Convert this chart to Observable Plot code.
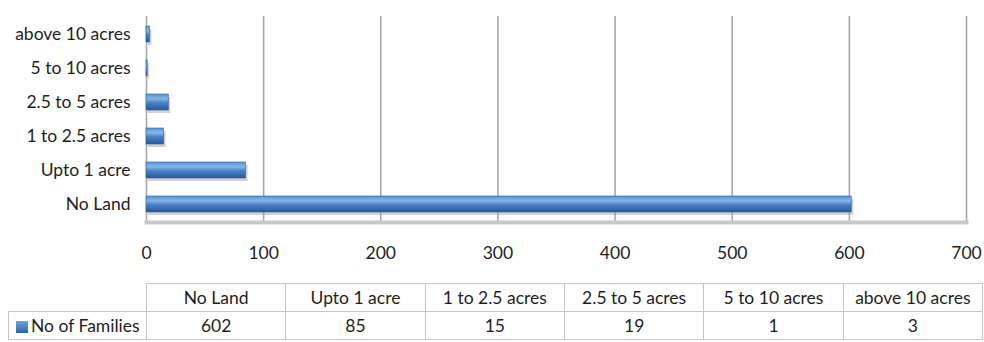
<!DOCTYPE html>
<html>
<head>
<meta charset="utf-8">
<script src="https://cdn.jsdelivr.net/npm/d3@7"></script>
<script src="https://cdn.jsdelivr.net/npm/@observablehq/plot@0.6"></script>
<style>
  html, body { margin: 0; padding: 0; background: #fff; }
  #wrap { position: relative; width: 984px; height: 342px; overflow: hidden; font-family: Lato, "Open Sans", sans-serif; }
  #chart { position: absolute; left: 0; top: 0; }
  table { position: absolute; left: 8px; top: 283px; width: 974px; table-layout: fixed; border-collapse: collapse; font-family: Lato, sans-serif; font-size: 17.5px; color: #1e1e1e; }
  td { border: 1px solid #c4c4c4; height: 28px; padding: 0; text-align: center; box-sizing: border-box; white-space: nowrap; }
  td.lbl { text-align: left; padding-left: 7px; }
  td.blank { border: none; border-right: 1px solid #c4c4c4; }
  .sw { display: inline-block; width: 12px; height: 12px; background: linear-gradient(#6fa3dc, #2e62a8); margin-right: 3px; vertical-align: -1px; box-sizing: border-box; }
</style>
</head>
<body>
<div id="wrap">
  <div id="chart"></div>
  <table id="tbl"><colgroup id="cols"></colgroup></table>
</div>
<script>
const categories = ["No Land", "Upto 1 acre", "1 to 2.5 acres", "2.5 to 5 acres", "5 to 10 acres", "above 10 acres"];
const families = [602, 85, 15, 19, 1, 3];
const seriesName = "No of Families";
const xTicks = [0, 100, 200, 300, 400, 500, 600, 700];

const data = categories.map((c, i) => ({category: c, value: families[i]}));

const plot = Plot.plot({
  width: 984,
  height: 270,
  marginLeft: 146,
  marginRight: 18,
  marginTop: 16,
  marginBottom: 48,
  style: {fontFamily: "Lato, sans-serif", fontSize: "17.5px", color: "#1e1e1e", background: "transparent"},
  x: {domain: [0, 700], ticks: xTicks, tickSize: 0, tickPadding: 24, label: null},
  y: {domain: categories.slice().reverse(), paddingInner: 0.54, paddingOuter: 0.27, tickSize: 0, tickPadding: 16, label: null},
  marks: [
    Plot.ruleX(xTicks, {stroke: "#a8a8a8", strokeWidth: 1.6}),
    Plot.frame({anchor: "bottom", stroke: "#c8c8c8", strokeWidth: 4}),
    Plot.barX(data, {x: "value", y: "category", fill: "#9a9a9a", fillOpacity: 0.45, dy: 3, dx: 2}),
    Plot.barX(data, {x: "value", y: "category", fill: "url(#barGrad)", stroke: "#2d5f9e", strokeWidth: 0.6})
  ]
});

const svg = d3.select(plot);
const defs = svg.insert("defs", ":first-child");
const g = defs.append("linearGradient").attr("id", "barGrad").attr("x1", 0).attr("x2", 0).attr("y1", 0).attr("y2", 1);
g.append("stop").attr("offset", "0%").attr("stop-color", "#5a92d3");
g.append("stop").attr("offset", "30%").attr("stop-color", "#85b7e8");
g.append("stop").attr("offset", "55%").attr("stop-color", "#4a81c7");
g.append("stop").attr("offset", "100%").attr("stop-color", "#28589a");

document.getElementById("chart").appendChild(plot);

// data table
const cols = d3.select("#cols");
cols.append("col").style("width", "138px");
categories.forEach(() => cols.append("col").style("width", "139.33px"));
const tbl = d3.select("#tbl");
const head = tbl.append("tr");
head.append("td").attr("class", "blank lbl");
categories.forEach(c => head.append("td").text(c));
const row = tbl.append("tr");
const lc = row.append("td").attr("class", "lbl");
lc.append("span").attr("class", "sw");
lc.append("span").text(seriesName);
families.forEach(v => row.append("td").text(v));
</script>
</body>
</html>
